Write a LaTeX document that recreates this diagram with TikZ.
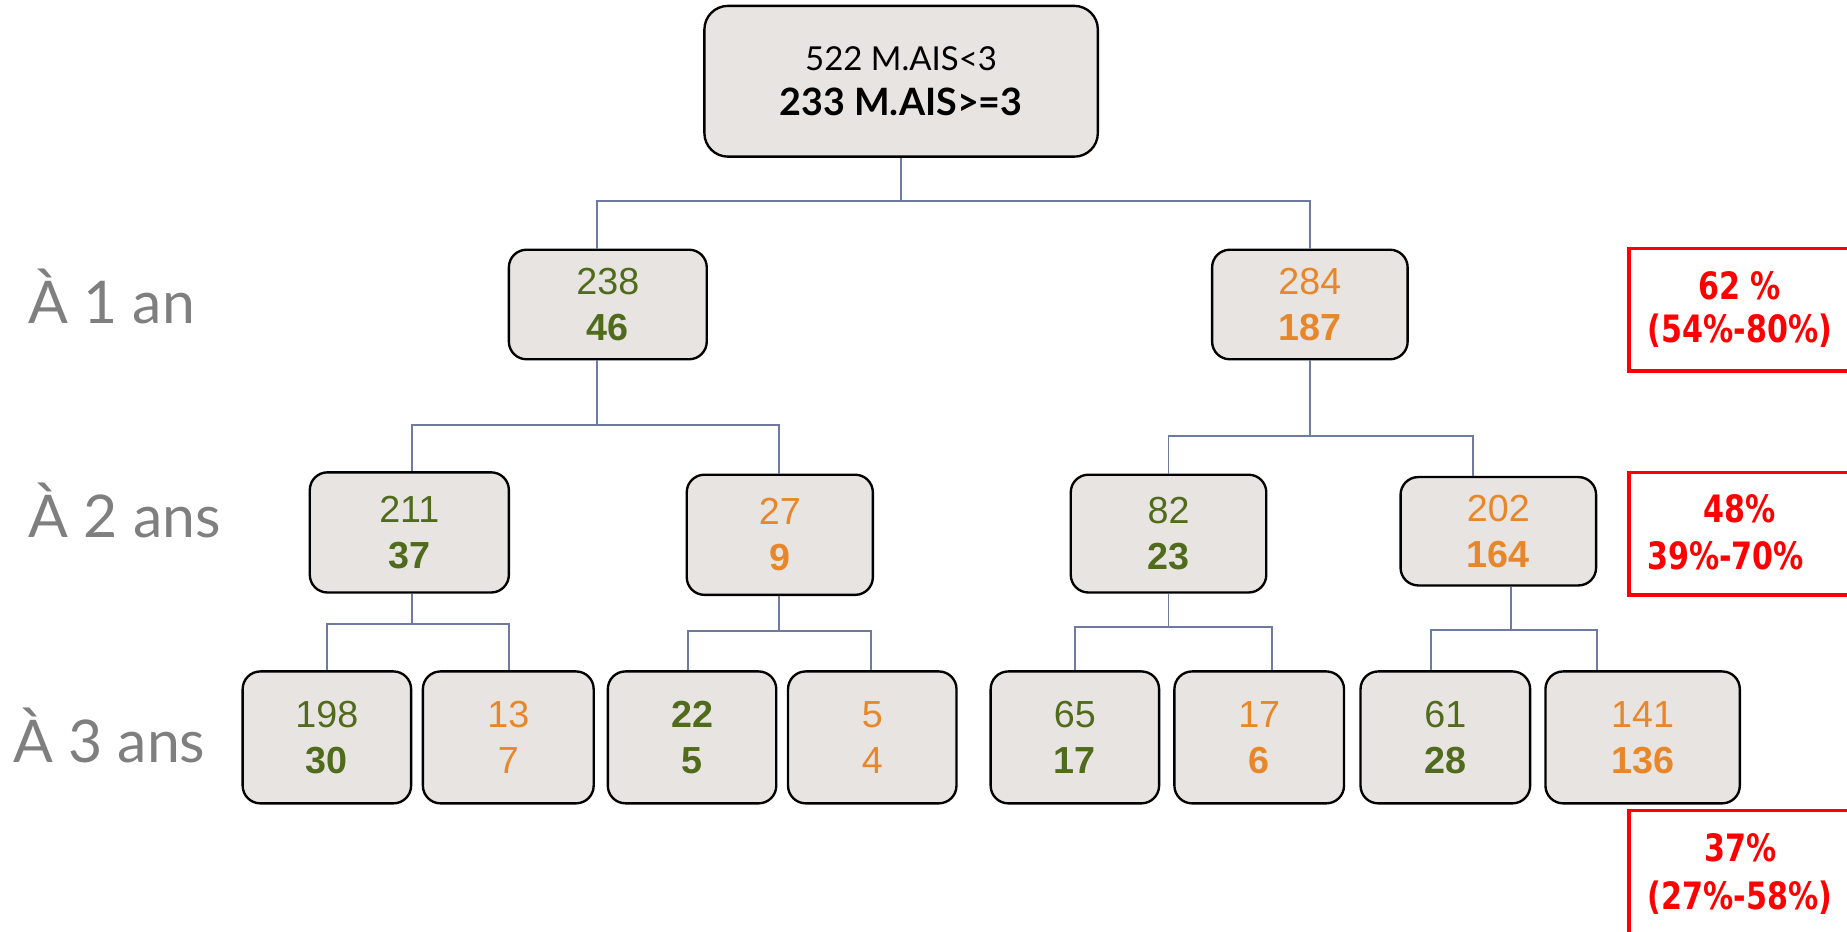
\documentclass[tikz,border=0pt]{standalone}
\usepackage{fontspec}
\setmainfont{Liberation Sans}
\newfontfamily\gillf{Lato}
\newfontfamily\redf[FakeStretch=0.8]{DejaVu Sans}
\usetikzlibrary{calc}
\definecolor{boxfill}{HTML}{E8E4E2}
\definecolor{conncol}{HTML}{6F7AA0}
\definecolor{grn}{HTML}{4F6B1B}
\definecolor{org}{HTML}{E8872A}
\definecolor{lblgray}{HTML}{7F7F7F}
\definecolor{redc}{HTML}{FF0000}
\begin{document}
\begin{tikzpicture}[x=0.5pt,y=-0.5pt,
  tbox/.style={draw=black, line width=1pt, fill=boxfill, rounded corners=7.5pt,
    align=center, inner sep=0pt, font=\fontsize{16}{19.5}\selectfont},
  conn/.style={draw=conncol, line width=0.8pt},
  lbl/.style={text=lblgray, inner sep=0pt, font=\gillf\fontsize{25}{29}\selectfont},
  redbox/.style={draw=redc, line width=1.5pt},
  redtxt/.style={text=redc, inner sep=0pt, font=\redf\bfseries\fontsize{16}{19}\selectfont}]
\useasboundingbox (0,0) rectangle (1568,791);
\clip (0,0) rectangle (1568,791);
% root
\node[tbox, rounded corners=10pt, minimum width=167pt, minimum height=64pt,
  font=\gillf\fontsize{14}{19}\selectfont] (root) at (765,69)
  {522 M.AIS<3\\\fontsize{16}{19}\selectfont\bfseries 233 M.AIS>=3};
% level 1
\node[tbox, minimum width=84pt, minimum height=46.5pt] (a) at (516,258.5)
  {\textcolor{grn}{238}\\\textcolor{grn}{\bfseries 46}};
\node[tbox, minimum width=83pt, minimum height=46.5pt] (b) at (1112,258.5)
  {\textcolor{org}{284}\\\textcolor{org}{\bfseries 187}};
% level 2
\node[tbox, minimum width=84.5pt, minimum height=51pt] (aa) at (347.5,452)
  {\textcolor{grn}{211}\\\textcolor{grn}{\bfseries 37}};
\node[tbox, minimum width=79pt, minimum height=51pt] (ab) at (662,454)
  {\textcolor{org}{27}\\\textcolor{org}{\bfseries 9}};
\node[tbox, minimum width=83pt, minimum height=50pt] (ba) at (992,453)
  {\textcolor{grn}{82}\\\textcolor{grn}{\bfseries 23}};
\node[tbox, minimum width=83pt, minimum height=46pt] (bb) at (1272,451)
  {\textcolor{org}{202}\\\textcolor{org}{\bfseries 164}};
% level 3
\node[tbox, minimum width=71.5pt, minimum height=56pt] (aaa) at (277.5,626)
  {\textcolor{grn}{198}\\\textcolor{grn}{\bfseries 30}};
\node[tbox, minimum width=72.5pt, minimum height=56pt] (aab) at (431.5,626)
  {\textcolor{org}{13}\\\textcolor{org}{7}};
\node[tbox, minimum width=71.5pt, minimum height=56pt] (aba) at (587.5,626)
  {\textcolor{grn}{\bfseries 22}\\\textcolor{grn}{\bfseries 5}};
\node[tbox, minimum width=71.5pt, minimum height=56pt] (abb) at (740.5,626)
  {\textcolor{org}{5}\\\textcolor{org}{4}};
\node[tbox, minimum width=71.5pt, minimum height=56pt] (baa) at (912.5,626)
  {\textcolor{grn}{65}\\\textcolor{grn}{\bfseries 17}};
\node[tbox, minimum width=72pt, minimum height=56pt] (bab) at (1069,626)
  {\textcolor{org}{17}\\\textcolor{org}{\bfseries 6}};
\node[tbox, minimum width=72pt, minimum height=56pt] (bba) at (1227,626)
  {\textcolor{grn}{61}\\\textcolor{grn}{\bfseries 28}};
\node[tbox, minimum width=82.5pt, minimum height=56pt] (bbb) at (1394.5,626)
  {\textcolor{org}{141}\\\textcolor{org}{\bfseries 136}};
% connector attachment points
\coordinate (ab0) at ($(a.south west)!0.446!(a.south east)$);
\coordinate (at0) at ($(a.north west)!0.446!(a.north east)$);
\coordinate (aab0) at ($(aa.south west)!0.515!(aa.south east)$);
\coordinate (aat0) at ($(aa.north west)!0.515!(aa.north east)$);
\coordinate (abb0) at ($(ab.south west)!0.494!(ab.south east)$);
\coordinate (abt0) at ($(ab.north west)!0.494!(ab.north east)$);
\coordinate (bbb0) at ($(bb.south west)!0.566!(bb.south east)$);
\coordinate (bbt0) at ($(bb.north west)!0.373!(bb.north east)$);
\coordinate (aaat) at ($(aaa.north west)!0.503!(aaa.north east)$);
\coordinate (aabt) at ($(aab.north west)!0.503!(aab.north east)$);
\coordinate (abat) at ($(aba.north west)!0.476!(aba.north east)$);
\coordinate (abbt) at ($(abb.north west)!0.49!(abb.north east)$);
\coordinate (baat) at ($(baa.north west)!0.503!(baa.north east)$);
\coordinate (babt) at ($(bab.north west)!0.576!(bab.north east)$);
\coordinate (bbat) at ($(bba.north west)!0.417!(bba.north east)$);
\coordinate (bbbt) at ($(bbb.north west)!0.267!(bbb.north east)$);
% connectors
\draw[conn] (root.south) -- (root.south |- 0,171);
\draw[conn] (at0) |- (root.south |- 0,171) -| (b.north);
\draw[conn] (ab0) -- (ab0 |- 0,361);
\draw[conn] (aat0) |- (ab0 |- 0,361) -| (abt0);
\draw[conn] (b.south) -- (b.south |- 0,370);
\draw[conn] (ba.north) |- (b.south |- 0,370) -| (bbt0);
\draw[conn] (aab0) -- (aab0 |- 0,530);
\draw[conn] (aaat) |- (aab0 |- 0,530) -| (aabt);
\draw[conn] (abb0) -- (abb0 |- 0,536);
\draw[conn] (abat) |- (abb0 |- 0,536) -| (abbt);
\draw[conn] (ba.south) -- (ba.south |- 0,532);
\draw[conn] (baat) |- (ba.south |- 0,532) -| (babt);
\draw[conn] (bbb0) -- (bbb0 |- 0,535);
\draw[conn] (bbat) |- (bbb0 |- 0,535) -| (bbbt);
% row labels
\node[lbl] (l1) at (95,252) {À 1 an};
\node[lbl] (l2) at (106,433) {À 2 ans};
\node[lbl] (l3) at (93,624) {À 3 ans};
% red boxes
\draw[redbox] (1383,211) rectangle (1600,315);
\draw[redbox] (1383,401) rectangle (1600,505);
\draw[redbox] (1383,688) rectangle (1600,820);
\node[redtxt] (r1a) at (1477,243) {62 \%};
\node[redtxt] (r1b) at (1477,281) {(54\%-80\%)};
\node[redtxt] (r2a) at (1477,432) {48\%};
\node[redtxt] (r2b) at (1465,472) {39\%-70\%};
\node[redtxt] (r3a) at (1478,720) {37\%};
\node[redtxt] (r3b) at (1477,762) {(27\%-58\%)};
\end{tikzpicture}
\end{document}
